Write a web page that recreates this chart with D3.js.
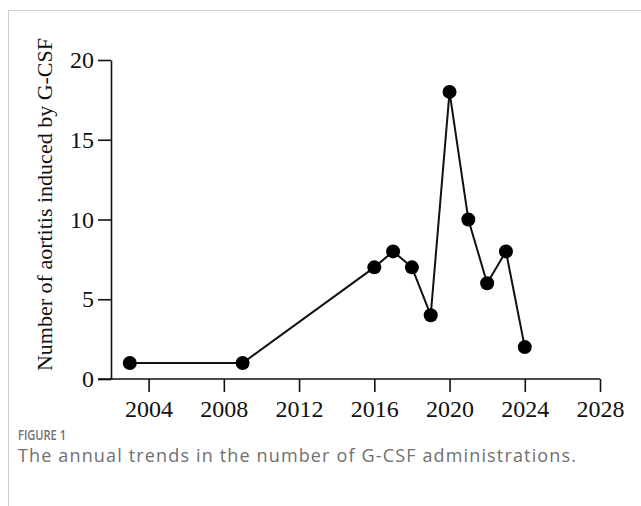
<!DOCTYPE html>
<html>
<head>
<meta charset="utf-8">
<script src="https://cdn.jsdelivr.net/npm/d3@7"></script>
<style>
  html, body { margin: 0; padding: 0; background: #fff; }
  svg { display: block; }
</style>
</head>
<body>
<script>
// Annual number of G-CSF-induced aortitis reports
const years  = [2003, 2009, 2016, 2017, 2018, 2019, 2020, 2021, 2022, 2023, 2024];
const counts = [1, 1, 7, 8, 7, 4, 18, 10, 6, 8, 2];
const xTicks = [2004, 2008, 2012, 2016, 2020, 2024, 2028];
const yTicks = [0, 5, 10, 15, 20];
const yTitle = "Number of aortitis induced by G-CSF";
const figLabel = "FIGURE 1";
const figCaption = "The annual trends in the number of G-CSF administrations.";

const W = 641, H = 506;
const svg = d3.select("body").append("svg").attr("width", W).attr("height", H);

// page frame
svg.append("line").attr("x1", 8).attr("x2", W).attr("y1", 10.5).attr("y2", 10.5)
  .attr("stroke", "#cfcfcf").attr("stroke-width", 1);
svg.append("line").attr("x1", 8.5).attr("x2", 8.5).attr("y1", 10).attr("y2", H)
  .attr("stroke", "#cfcfcf").attr("stroke-width", 1);

const x = d3.scaleLinear().domain([2002, 2028]).range([111, 600]);
const y = d3.scaleLinear().domain([0, 20]).range([379, 60]);

const serif = "'Liberation Serif', 'Times New Roman', serif";

// y axis
const gy = svg.append("g").attr("transform", `translate(${x(2002)},0)`)
  .call(d3.axisLeft(y).tickValues(yTicks).tickSize(13).tickSizeOuter(0).tickPadding(4));
gy.selectAll("path, line").attr("stroke", "#111").attr("stroke-width", 1.6);
gy.selectAll("text").attr("font-family", serif).attr("font-size", 24).attr("fill", "#111");

// x axis
const gx = svg.append("g").attr("transform", `translate(0,${y(0)})`)
  .call(d3.axisBottom(x).tickValues(xTicks).tickFormat(d3.format("d"))
    .tickSize(13).tickSizeOuter(0).tickPadding(8));
gx.select("path.domain").attr("d", `M${x(2002) - 13},0H${x(2028)}`);
gx.selectAll("path, line").attr("stroke", "#111").attr("stroke-width", 1.6);
gx.selectAll("text").attr("font-family", serif).attr("font-size", 24).attr("fill", "#111");

// y title
svg.append("text")
  .attr("transform", `translate(52,${(y(0) + y(20)) / 2 - 15}) rotate(-90)`)
  .attr("text-anchor", "middle")
  .attr("font-family", serif).attr("font-size", 22).attr("fill", "#111")
  .text(yTitle);

// series line and markers
const pts = years.map((d, i) => [d, counts[i]]);
svg.append("path").datum(pts)
  .attr("fill", "none").attr("stroke", "#111").attr("stroke-width", 2)
  .attr("d", d3.line().x(d => x(d[0])).y(d => y(d[1])));
svg.append("g").selectAll("circle").data(pts).join("circle")
  .attr("cx", d => x(d[0])).attr("cy", d => y(d[1])).attr("r", 7)
  .attr("fill", "#000");

// caption
svg.append("text").attr("x", 18).attr("y", 440)
  .attr("font-family", "'Open Sans', sans-serif").attr("font-size", 13.5)
  .attr("font-weight", 600).attr("fill", "#707070")
  .attr("textLength", 48).attr("lengthAdjust", "spacingAndGlyphs")
  .text(figLabel);
svg.append("text").attr("x", 18).attr("y", 462)
  .attr("font-family", "'Open Sans', sans-serif").attr("font-size", 18)
  .attr("letter-spacing", 1.15).attr("fill", "#707070").text(figCaption);
</script>
</body>
</html>
